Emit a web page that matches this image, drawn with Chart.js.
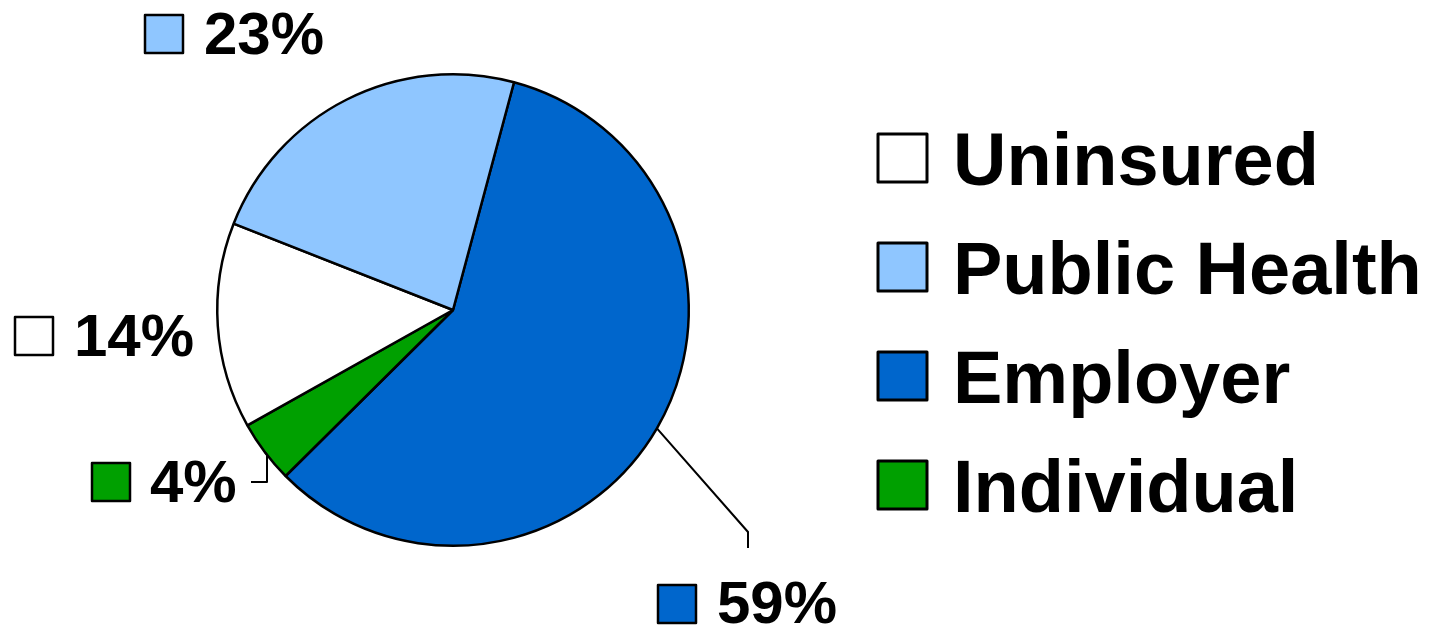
<!DOCTYPE html>
<html>
<head>
<meta charset="utf-8">
<script src="https://cdn.jsdelivr.net/npm/chart.js@4.4.0/dist/chart.umd.min.js"></script>
<style>
    html, body { margin: 0; padding: 0; background: #fff; }
    #chart { display: block; }
</style>
</head>
<body>
<canvas id="chart" width="1439" height="628"></canvas>
<script>
// Chart data
const categories = ['Employer', 'Individual', 'Uninsured', 'Public Health'];
// slice sizes; printed labels are the rounded figures
const sliceValues = [58.4, 4.3, 14.1, 23.2];
const percentLabels = ['59%', '4%', '14%', '23%'];
const sliceColors = ['#0066CC', '#00A000', '#FFFFFF', '#8FC6FF'];
const legendOrder = ['Uninsured', 'Public Health', 'Employer', 'Individual'];

// Where each percentage label sits (box left/top, text x/baseline) and its leader line
const labelSpots = {
    'Employer':      { box: [658, 585], text: [717, 623], leader: [[748, 532], [748, 548]] },
    'Individual':    { box: [92, 463],  text: [150, 502], leader: [[267, 455], [267, 482], [251, 482]] },
    'Uninsured':     { box: [15, 317],  text: [74, 356],  leader: null },
    'Public Health': { box: [145, 15],  text: [204, 54],  leader: null }
};

const FONT = '"Liberation Sans", Arial, sans-serif';

function drawBox(ctx, x, y, w, h, fill, lw) {
    ctx.fillStyle = fill;
    ctx.fillRect(x, y, w, h);
    ctx.lineWidth = lw;
    ctx.strokeStyle = '#000';
    ctx.lineJoin = 'round';
    ctx.strokeRect(x, y, w, h);
}

const labelsPlugin = {
    id: 'pieLabels',
    afterDraw(chart) {
        const ctx = chart.ctx;
        const meta = chart.getDatasetMeta(0);
        ctx.save();

        // Percentage labels with leader lines
        meta.data.forEach((arc, i) => {
            const spot = labelSpots[categories[i]];
            const p = arc.getProps(['x', 'y', 'startAngle', 'endAngle', 'outerRadius'], true);
            if (spot.leader) {
                const mid = (p.startAngle + p.endAngle) / 2;
                ctx.beginPath();
                ctx.moveTo(p.x + Math.cos(mid) * p.outerRadius, p.y + Math.sin(mid) * p.outerRadius);
                spot.leader.forEach(pt => ctx.lineTo(pt[0], pt[1]));
                ctx.lineWidth = 2;
                ctx.strokeStyle = '#000';
                ctx.stroke();
            }
            drawBox(ctx, spot.box[0], spot.box[1], 38, 38, sliceColors[i], 2.5);
            ctx.fillStyle = '#000';
            ctx.font = 'bold 60px ' + FONT;
            ctx.textBaseline = 'alphabetic';
            ctx.textAlign = 'left';
            ctx.fillText(percentLabels[i], spot.text[0], spot.text[1]);
        });

        // Legend
        legendOrder.forEach((name, k) => {
            const i = categories.indexOf(name);
            const top = 134 + k * 109;
            drawBox(ctx, 878, top, 49, 48, sliceColors[i], 3);
            ctx.fillStyle = '#000';
            ctx.font = 'bold 74px ' + FONT;
            ctx.fillText(name, 953, top + 51);
        });
        ctx.restore();
    }
};

new Chart(document.getElementById('chart'), {
    type: 'pie',
    data: {
        labels: categories,
        datasets: [{
            data: sliceValues,
            backgroundColor: sliceColors,
            borderColor: '#000',
            borderWidth: 2.5
        }]
    },
    options: {
        responsive: false,
        animation: false,
        rotation: 15,
        layout: { padding: { left: 216, right: 749, top: 72, bottom: 80 } },
        plugins: {
            legend: { display: false },
            tooltip: { enabled: false }
        }
    },
    plugins: [labelsPlugin]
});
</script>
</body>
</html>
